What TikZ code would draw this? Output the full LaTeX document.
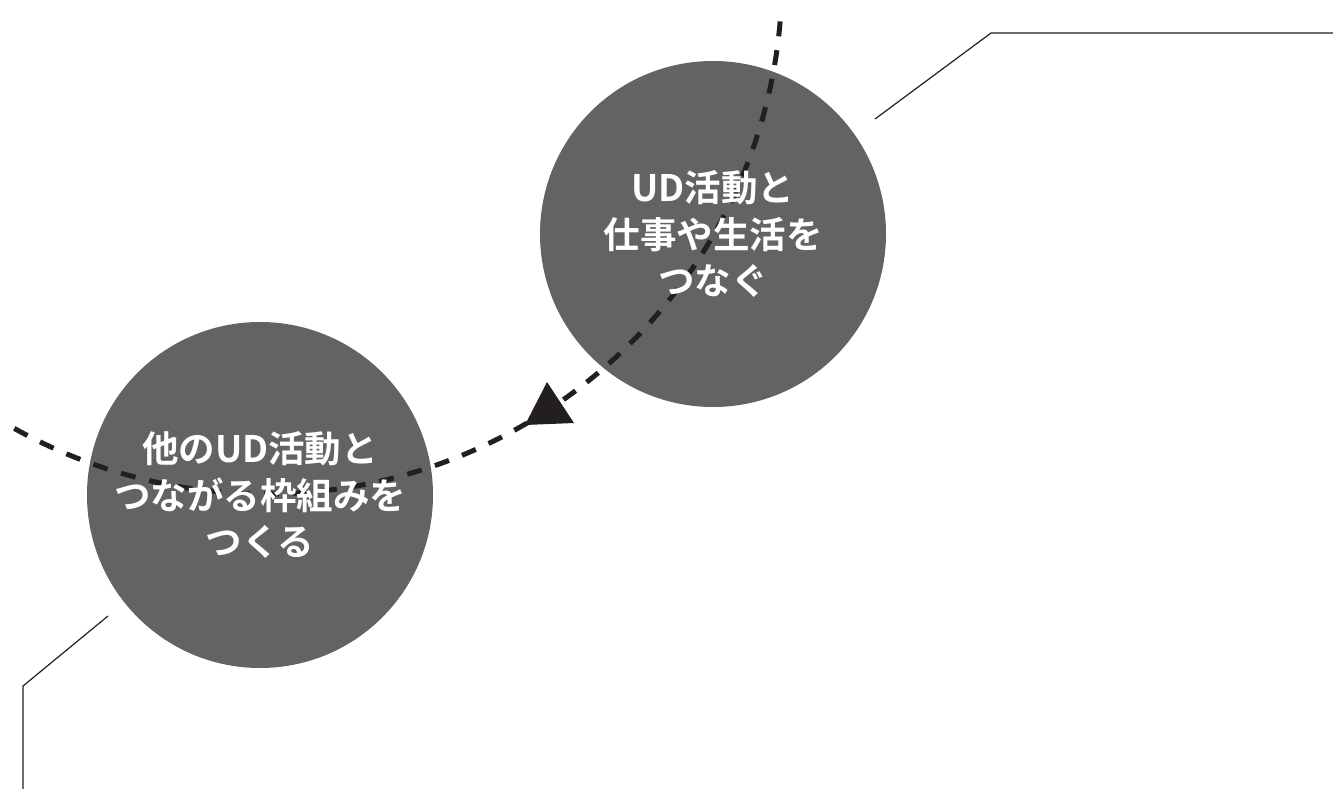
\documentclass[tikz,border=0pt]{standalone}
\usepackage{fontspec}
\newfontfamily\jpfont{Noto Sans CJK JP}[BoldFont={Noto Sans CJK JP Bold}]
\definecolor{discgray}{RGB}{99,99,101}
\definecolor{inkblack}{RGB}{35,31,32}
\tikzset{
	disc/.style={circle, fill=discgray, minimum size=346pt, inner sep=0pt},
	disclabel/.style={text=white, align=center, font=\jpfont\bfseries\fontsize{36.5}{46.5}\selectfont},
	leader/.style={draw=inkblack, line width=1.2pt},
	route/.style={draw=inkblack, line width=5pt, dash pattern=on 15pt off 14pt}
}
\begin{document}
\begin{tikzpicture}[x=1pt,y=-1pt]
	\useasboundingbox (0,0) rectangle (1333,789);
	\node[disc] (upper) at (713,234) {};
	\node[disc] (lower) at (260,495) {};
	\draw[route,domain=119.2:4.1,samples=120,smooth,variable=\t] plot ({266+516*cos(\t)},{-22+516*sin(\t)});
	\fill[inkblack] (547,382) -- (525,425) -- (574,423) -- cycle;
	\node[disclabel] (uppertext) at (upper.center) {UD活動と\\仕事や生活を\\つなぐ};
	\node[disclabel] (lowertext) at (lower.center) {他のUD活動と\\つながる枠組みを\\つくる};
	\coordinate (upperhook) at (875,119);
	\coordinate (upperbend) at (991,33);
	\coordinate (upperend) at (1333,33);
	\coordinate (lowerhook) at (108,616);
	\coordinate (lowerbend) at (23,686);
	\coordinate (lowerend) at (23,789);
	\draw[leader] (upperhook) -- (upperbend) -- (upperend);
	\draw[leader] (lowerhook) -- (lowerbend) -- (lowerend);
\end{tikzpicture}
\end{document}
